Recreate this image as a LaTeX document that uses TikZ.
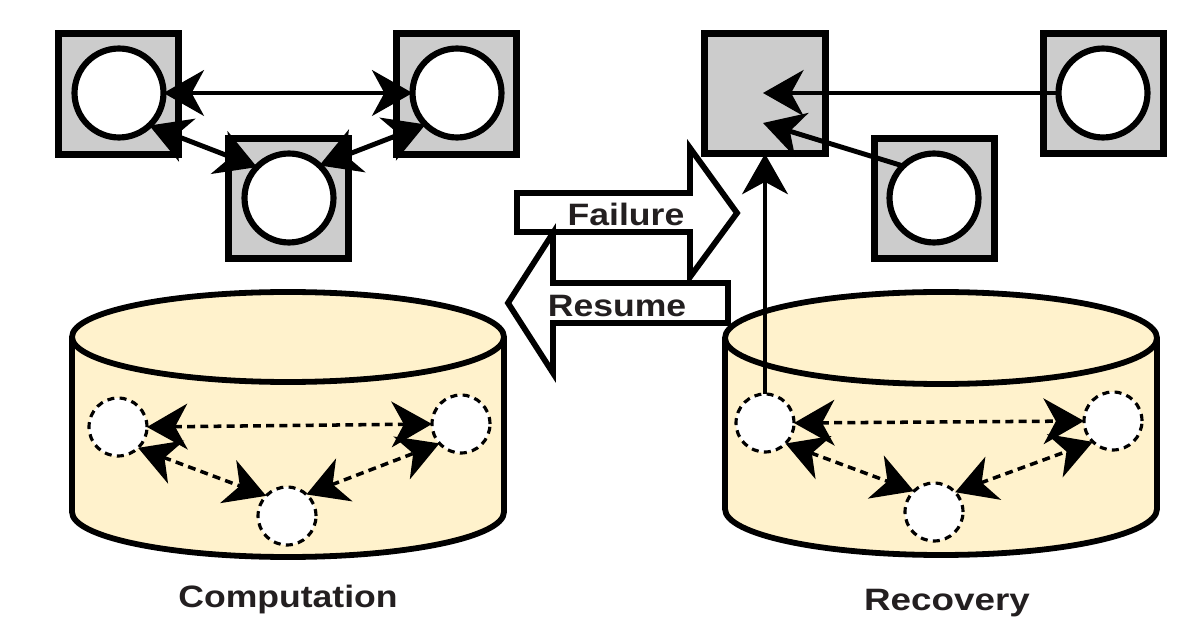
\documentclass[tikz,border=0pt]{standalone}
\usepackage{fontspec}
\setmainfont{Liberation Sans}
\usepackage{graphicx}
\usetikzlibrary{arrows.meta}
\definecolor{sqfill}{HTML}{CCCCCC}
\definecolor{cylfill}{HTML}{FFF2CC}
\definecolor{txtcol}{HTML}{231F20}
\begin{document}
\begin{tikzpicture}[x=0.02cm,y=-0.02cm,
  box/.style={draw,line width=3.9pt,fill=sqfill,minimum size=2.41cm,inner sep=0pt,outer sep=0pt},
  proc/.style={draw,circle,line width=3.5pt,fill=white,minimum size=1.78cm,inner sep=0pt,outer sep=0pt},
  ghost/.style={draw,circle,dash pattern=on 4pt off 3pt,line width=1.8pt,fill=white,minimum size=1.16cm,inner sep=0pt,outer sep=0pt},
  dlink/.style={line width=2.8pt,{Stealth[length=23pt,width=26pt,inset=7pt]}-{Stealth[length=23pt,width=26pt,inset=7pt]}},
  olink/.style={line width=2.8pt,-{Stealth[length=23pt,width=26pt,inset=7pt]}},
  dashlink/.style={line width=2pt,dash pattern=on 4.5pt off 3pt,{Stealth[length=23pt,width=26pt,inset=7pt]}-{Stealth[length=23pt,width=26pt,inset=7pt]}},
  blockarrow/.style={draw,line width=3.3pt,fill=white,line join=miter},
  cylbody/.style={line width=3.3pt,fill=cylfill},
  lbl/.style={text=txtcol,font=\fontsize{17.6}{20}\selectfont\bfseries,inner sep=0pt,anchor=base}
]
\fill[white] (0,0) rectangle (1197,631);
\useasboundingbox (0,0) rectangle (1197,631);

% ---------- cylinders ----------
\fill[cylfill] (72,337) -- (72,512) arc[start angle=180,end angle=0,x radius=216,y radius=45] -- (504,337) -- cycle;
\draw[line width=3.3pt] (72,337) -- (72,512) arc[start angle=180,end angle=0,x radius=216,y radius=45] -- (504,337);
\draw[cylbody] (288,337) ellipse[x radius=216,y radius=45];

\fill[cylfill] (725,338) -- (725,509) arc[start angle=180,end angle=0,x radius=216,y radius=46] -- (1157,338) -- cycle;
\draw[line width=3.3pt] (725,338) -- (725,509) arc[start angle=180,end angle=0,x radius=216,y radius=46] -- (1157,338);
\draw[cylbody] (941,338) ellipse[x radius=216,y radius=46];

% ---------- left (computation) ----------
\node[box] (L1) at (118.5,94) {};
\node[box] (L2) at (456.5,94) {};
\node[box] (L3) at (288.5,198.5) {};
\node[proc] (p1) at (119,93) {};
\node[proc] (p2) at (457,93) {};
\node[proc] (p3) at (289,198) {};
\draw[dlink] (p1.east) -- (p2.west);
\draw[dlink] (p1.-47) -- (p3.136);
\draw[dlink] (p3.47) -- (p2.-135);

\node[ghost] (ga) at (118,427) {};
\node[ghost] (gb) at (461,424) {};
\node[ghost] (gc) at (287,516) {};
\draw[dashlink] (ga.east) -- (gb.west);
\draw[dashlink] (ga.-46) -- (gc.136);
\draw[dashlink] (gc.48) -- (gb.-138);

% ---------- right (recovery) ----------
\node[box] (R1) at (765,93.5) {};
\node[box] (R2) at (1103.5,93.5) {};
\node[box] (R3) at (934.5,198.5) {};
\node[proc] (q2) at (1103,93) {};
\node[proc] (q3) at (934,198) {};
\coordinate (t1) at (763,93);
\coordinate (t2) at (763,123);
\draw[olink] (q2.west) -- (t1);
\draw[olink] (q3.134) -- (t2);

\node[ghost] (ha) at (765,423) {};
\node[ghost] (hb) at (1113,421) {};
\node[ghost] (hc) at (934,512) {};
\draw[dashlink] (ha.east) -- (hb.west);
\draw[dashlink] (ha.-45) -- (hc.134);
\draw[dashlink] (hc.43) -- (hb.-134);
\draw[olink] (ha.north) -- (R1.south);

% ---------- block arrows ----------
\draw[blockarrow] (517,193) -- (690,193) -- (690,148) -- (737,213) -- (690,277) -- (690,232) -- (517,232) -- cycle;
\draw[blockarrow] (728,283) -- (553,283) -- (553,233) -- (508,303) -- (553,373) -- (553,323) -- (728,323) -- cycle;
\node[lbl] (fail) at (626,226) {\scalebox{1.15}[1]{Failure}};
\node[lbl] (res) at (617,317) {\scalebox{1.15}[1]{Resume}};

% ---------- captions ----------
\node[lbl] (comp) at (288,607) {\scalebox{1.15}[1]{Computation}};
\node[lbl] (reco) at (947,610) {\scalebox{1.19}[1]{Recovery}};
\end{tikzpicture}
\end{document}
